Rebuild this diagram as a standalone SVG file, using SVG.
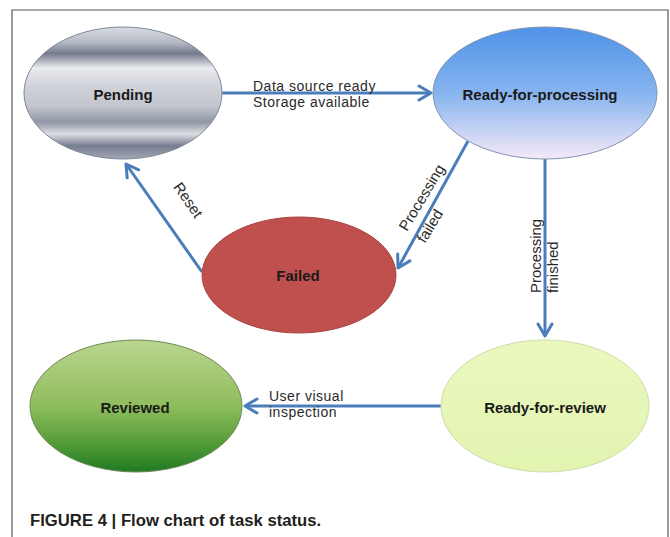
<svg xmlns="http://www.w3.org/2000/svg" width="670" height="537" viewBox="0 0 670 537">
<style>
.lbl{font-family:"Liberation Sans",Arial,sans-serif;font-size:15px;font-weight:bold;fill:#1a1a1a;text-anchor:middle}
.edge{font-family:"Liberation Sans",Arial,sans-serif;font-size:15px;fill:#2a2a2a}
.edge2{font-family:"Liberation Sans",Arial,sans-serif;font-size:14px;letter-spacing:0.5px;fill:#2a2a2a}
.conn{stroke:#4a7ebb;stroke-width:3;fill:none}
.cap{font-family:"Liberation Sans",Arial,sans-serif;font-size:16.7px;font-weight:bold;fill:#231f20}
</style>
<defs>
<linearGradient id="gPend" x1="0" y1="0" x2="0" y2="1">
<stop offset="0" stop-color="#d9dce3"/>
<stop offset="0.12" stop-color="#b3b8c3"/>
<stop offset="0.2" stop-color="#737a8d"/>
<stop offset="0.31" stop-color="#eaebef"/>
<stop offset="0.45" stop-color="#d0d2d9"/>
<stop offset="0.6" stop-color="#c2c5cd"/>
<stop offset="0.72" stop-color="#9197a6"/>
<stop offset="0.81" stop-color="#dcdee3"/>
<stop offset="0.9" stop-color="#767d90"/>
<stop offset="1" stop-color="#a3a8b5"/>
</linearGradient>
<linearGradient id="gRfp" x1="0" y1="0" x2="0" y2="1">
<stop offset="0" stop-color="#4f93e8"/>
<stop offset="0.5" stop-color="#86b4ef"/>
<stop offset="1" stop-color="#f6e9f7"/>
</linearGradient>
<linearGradient id="gRev" x1="0" y1="0" x2="0" y2="1">
<stop offset="0" stop-color="#bad58f"/>
<stop offset="0.5" stop-color="#8fbd5c"/>
<stop offset="0.8" stop-color="#4f9a36"/>
<stop offset="1" stop-color="#1f7a22"/>
</linearGradient>
<linearGradient id="gRfr" x1="0" y1="0" x2="0" y2="1">
<stop offset="0" stop-color="#eaf8bf"/>
<stop offset="1" stop-color="#e2f4b0"/>
</linearGradient>
<marker id="arr" markerUnits="userSpaceOnUse" markerWidth="18" markerHeight="18" viewBox="0 0 18 18" refX="15" refY="9" orient="auto">
<path d="M3,2 L15,9 L3,16" fill="none" stroke="#4a7ebb" stroke-width="3" stroke-linecap="round" stroke-linejoin="round"/>
</marker>
</defs>
<rect x="0" y="0" width="670" height="537" fill="#ffffff"/>
<path d="M12,537 L12,10 L668,10 L668,537" fill="none" stroke="#555555" stroke-width="1.2"/>

<g id="connectors">
<path class="conn" d="M222,93 L431,93" marker-end="url(#arr)"/>
<path class="conn" d="M468,141 L398,268" marker-end="url(#arr)"/>
<path class="conn" d="M202,272 L126,164" marker-end="url(#arr)"/>
<path class="conn" d="M545,159 L545,336" marker-end="url(#arr)"/>
<path class="conn" d="M441,406 L245,406" marker-end="url(#arr)"/>
<text class="edge2" x="253" y="90.5">Data source ready</text>
<text class="edge2" x="253" y="106.5">Storage available</text>
<text class="edge" transform="translate(184,203) rotate(55)" text-anchor="middle">Reset</text>
<text class="edge" transform="translate(407,232) rotate(-59)">Processing</text>
<text class="edge" transform="translate(425,244) rotate(-59)">failed</text>
<text class="edge" transform="translate(541,293) rotate(-90)">Processing</text>
<text class="edge" transform="translate(558,293) rotate(-90)">finished</text>
<text class="edge2" x="269" y="401">User visual</text>
<text class="edge2" x="269" y="417">inspection</text>
</g>

<g id="pending">
<ellipse cx="123" cy="93" rx="99" ry="66" fill="url(#gPend)" stroke="#7f8798" stroke-width="1"/>
<text class="lbl" x="123" y="100">Pending</text>
</g>
<g id="ready-for-processing">
<ellipse cx="545" cy="93" rx="112" ry="66" fill="url(#gRfp)" stroke="#8294b4" stroke-width="1"/>
<text class="lbl" x="540" y="100">Ready-for-processing</text>
</g>
<g id="failed">
<ellipse cx="299" cy="275" rx="97" ry="58" fill="#c0504d" stroke="#a94442" stroke-width="1"/>
<text class="lbl" x="298" y="281">Failed</text>
</g>
<g id="reviewed">
<ellipse cx="136" cy="406" rx="106" ry="66" fill="url(#gRev)" stroke="#6f8a5a" stroke-width="1"/>
<text class="lbl" x="135" y="413">Reviewed</text>
</g>
<g id="ready-for-review">
<ellipse cx="545" cy="406" rx="104" ry="66" fill="url(#gRfr)" stroke="#cfdca8" stroke-width="1"/>
<text class="lbl" x="545" y="413">Ready-for-review</text>
</g>

<text class="cap" x="30" y="526">FIGURE 4 | Flow chart of task status.</text>
</svg>
